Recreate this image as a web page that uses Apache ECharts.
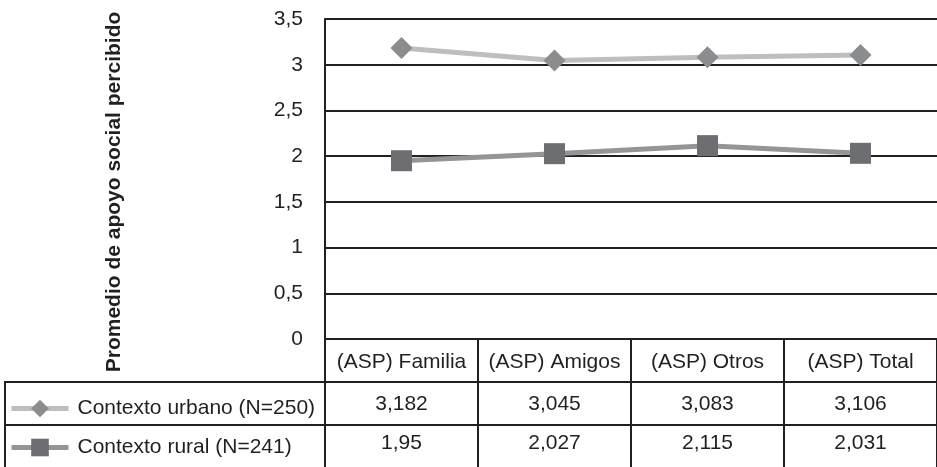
<!DOCTYPE html>
<html>
<head>
<meta charset="utf-8">
<script src="https://cdn.jsdelivr.net/npm/echarts@6/dist/echarts.min.js"></script>
<style>
  html, body { margin: 0; padding: 0; background: #ffffff; }
  #chart { width: 937px; height: 467px; }
</style>
</head>
<body>
<div id="chart"></div>
<script>
// Categories and mean perceived social support per context
var categories = ['(ASP) Familia', '(ASP) Amigos', '(ASP) Otros', '(ASP) Total'];
var urbanName = 'Contexto urbano (N=250)';
var ruralName = 'Contexto rural (N=241)';
var urbanValues = [3.182, 3.045, 3.083, 3.106];
var ruralValues = [1.95, 2.027, 2.115, 2.031];
var yAxisTitle = 'Promedio de apoyo social percibido';

var INK = '#231f20';
var FONT = '"Liberation Sans", Arial, sans-serif';
var FS = 21;

function comma(v) { return String(v).replace('.', ','); }

var chart = echarts.init(document.getElementById('chart'), null, { renderer: 'canvas' });

// one extra category axis per table row, each showing a series' values
function valueRowAxis(values, offset) {
  return {
    type: 'category',
    position: 'bottom',
    offset: offset,
    data: values.map(comma),
    axisLine: { show: false },
    axisTick: { show: false },
    axisLabel: { interval: 0, hideOverlap: false, margin: 13, fontSize: FS, color: INK, fontFamily: FONT }
  };
}

function legendRow(name, top) {
  return {
    data: [name], orient: 'vertical', left: 4, top: top,
    itemWidth: 57, itemHeight: 22, selectedMode: false,
    lineStyle: { width: 5 },
    textStyle: { fontSize: FS, color: INK, fontFamily: FONT, padding: [0, 0, 0, 4] }
  };
}

chart.setOption({
  backgroundColor: '#ffffff',
  animation: false,
  textStyle: { fontFamily: FONT },
  grid: { left: 325, right: -1, top: 19, bottom: 128, containLabel: false },
  legend: [legendRow(urbanName, 393), legendRow(ruralName, 432)],
  xAxis: [
    {
      type: 'category',
      data: categories,
      boundaryGap: true,
      axisLine: { show: true, lineStyle: { color: INK, width: 2 } },
      axisTick: { show: true, interval: 0, length: 128, lineStyle: { color: INK, width: 2 } },
      axisLabel: { interval: 0, hideOverlap: false, margin: 13, fontSize: FS, color: INK, fontFamily: FONT },
      splitLine: { show: false }
    },
    valueRowAxis(urbanValues, 42),
    valueRowAxis(ruralValues, 81)
  ],
  yAxis: {
    type: 'value',
    min: 0, max: 3.5, interval: 0.5,
    axisLine: { show: true, lineStyle: { color: INK, width: 2 } },
    axisTick: { show: false },
    axisLabel: {
      margin: 22, fontSize: FS, color: INK, fontFamily: FONT,
      formatter: function (v) { return comma(v); }
    },
    splitLine: { show: true, lineStyle: { color: INK, width: 2 } }
  },
  graphic: [
    {
      type: 'text', x: 114, y: 192, rotation: Math.PI / 2,
      style: {
        text: yAxisTitle, fill: INK, font: 'bold 21px ' + FONT,
        textAlign: 'center', textVerticalAlign: 'middle'
      }
    },
    // table frame lines extending under the legend column
    { type: 'line', shape: { x1: 5, y1: 382, x2: 937, y2: 382 }, style: { stroke: INK, lineWidth: 2 } },
    { type: 'line', shape: { x1: 5, y1: 425, x2: 937, y2: 425 }, style: { stroke: INK, lineWidth: 2 } },
    { type: 'line', shape: { x1: 5, y1: 381, x2: 5, y2: 467 }, style: { stroke: INK, lineWidth: 2 } }
  ],
  series: [
    {
      name: urbanName,
      type: 'line',
      data: urbanValues,
      symbol: 'diamond',
      symbolSize: 22,
      lineStyle: { color: '#bdbec0', width: 5 },
      itemStyle: { color: '#8b8c8e' },
      z: 3
    },
    {
      name: ruralName,
      type: 'line',
      data: ruralValues,
      symbol: 'rect',
      symbolSize: 21,
      lineStyle: { color: '#949598', width: 5 },
      itemStyle: { color: '#6d6e71' },
      z: 3
    }
  ]
});
</script>
</body>
</html>
